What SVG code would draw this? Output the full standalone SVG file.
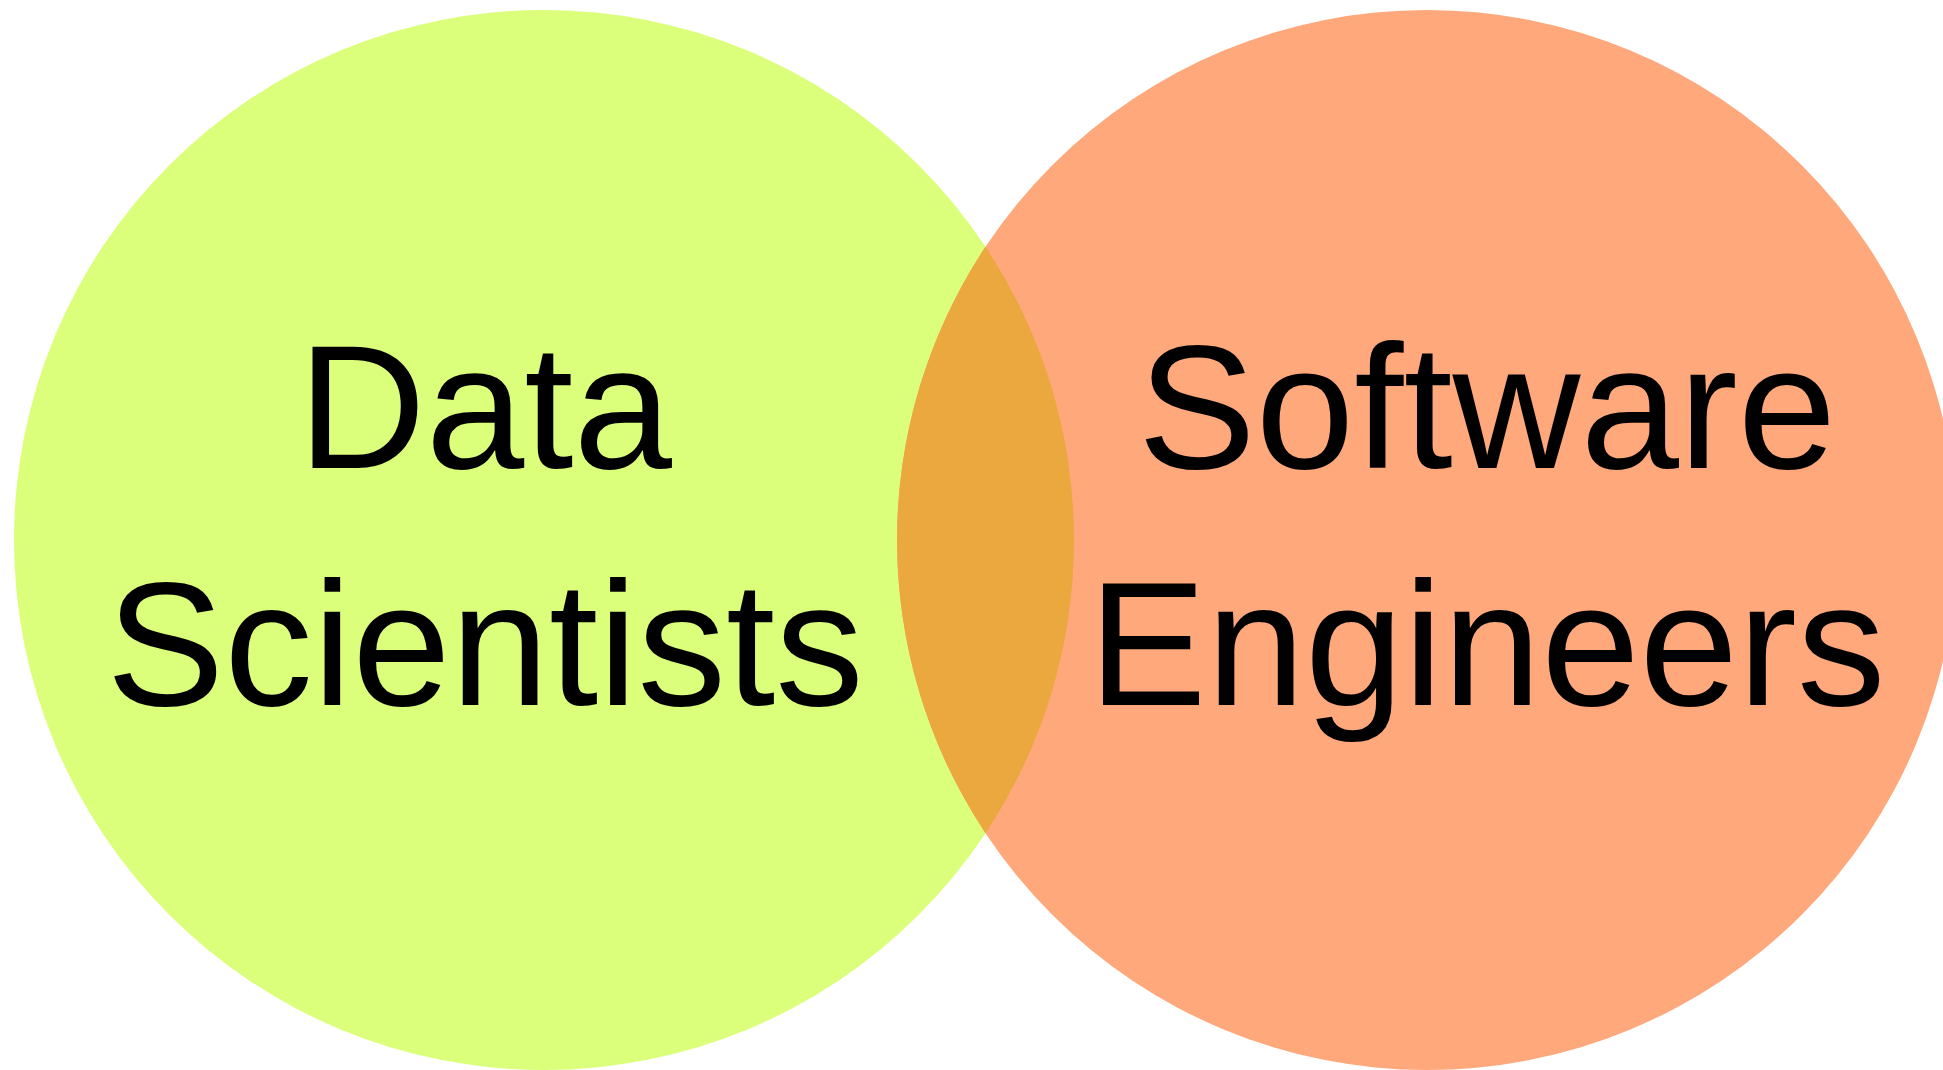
<svg xmlns="http://www.w3.org/2000/svg" width="1943" height="1070" viewBox="0 0 1943 1070">
<style>
.lbl{font-family:"Liberation Sans",Arial,sans-serif;font-size:177px;fill:#000;text-anchor:middle}
</style>
<rect width="1943" height="1070" fill="#ffffff"/>
<g id="data-scientists">
<circle cx="544" cy="540" r="530" fill="#dbff7b"/>
</g>
<g id="software-engineers">
<circle cx="1427" cy="540" r="530" fill="#ffa87b"/>
</g>
<g id="overlap">
<path d="M985.5,246.8 A530,530 0 0 0 985.5,833.2 A530,530 0 0 0 985.5,246.8 Z" fill="#eba83e"/>
</g>
<g id="labels">
<text class="lbl" x="485" y="468">Data</text>
<text class="lbl" x="485" y="705">Scientists</text>
<text class="lbl" x="1487" y="468">Software</text>
<text class="lbl" x="1487" y="705">Engineers</text>
</g>
<g id="connectors"/>
</svg>
